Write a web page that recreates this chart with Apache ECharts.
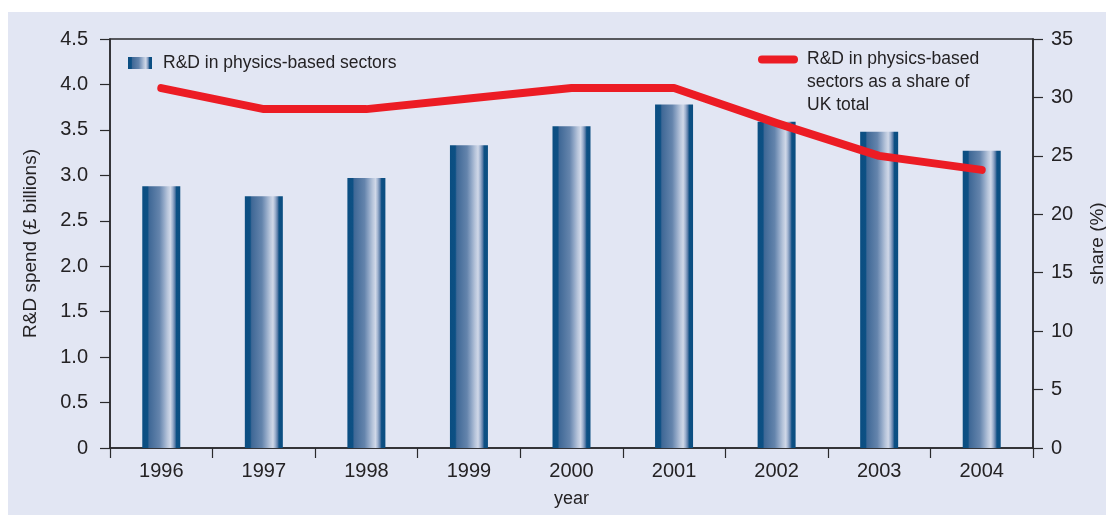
<!DOCTYPE html>
<html>
<head>
<meta charset="utf-8">
<script src="https://cdn.jsdelivr.net/npm/echarts@6/dist/echarts.min.js"></script>
<style>
  html, body { margin: 0; padding: 0; background: #ffffff; }
  #wrap { position: relative; width: 1106px; height: 515px; overflow: hidden; }
  #bg { position: absolute; left: 8px; top: 12px; right: 0; bottom: 0; background: #e2e6f3; }
  #chart { position: absolute; left: 0; top: 0; width: 1106px; height: 515px; }
</style>
</head>
<body>
<div id="wrap">
  <div id="bg"></div>
  <div id="chart"></div>
</div>
<script>
// Years on the category axis
const years = ['1996', '1997', '1998', '1999', '2000', '2001', '2002', '2003', '2004'];
// R&D spend in physics-based sectors, £ billions
const rdSpend = [2.88, 2.77, 2.97, 3.33, 3.54, 3.78, 3.59, 3.48, 3.27];
// Physics-based R&D as a share of the UK total, %
const sharePct = [30.8, 29.0, 29.0, 29.9, 30.8, 30.8, 27.8, 25.0, 23.8];

const barName = 'R&D in physics-based sectors';
const lineName = 'R&D in physics-based sectors as a share of UK total';

const FONT = '"Liberation Sans", Arial, Helvetica, sans-serif';
const INK = '#242224';
const AXIS = '#2a2a2c';

// Cylinder-like shading across each bar
const barGradient = new echarts.graphic.LinearGradient(0, 0, 1, 0, [
  { offset: 0.00, color: '#0b4e81' },
  { offset: 0.14, color: '#0d5084' },
  { offset: 0.18, color: '#3f6896' },
  { offset: 0.45, color: '#6484ac' },
  { offset: 0.56, color: '#8ea5c5' },
  { offset: 0.66, color: '#b6c4da' },
  { offset: 0.74, color: '#d0d8e8' },
  { offset: 0.80, color: '#9fb2cf' },
  { offset: 0.86, color: '#5b7da8' },
  { offset: 0.90, color: '#0d5084' },
  { offset: 1.00, color: '#0b4e81' }
]);

// Pill-shaped line key sitting at the top of a taller box, so it lines up
// with the first line of the three-line legend label
const pillIcon = 'path://M4,0 L36,0 A4,4 0 0 1 36,8 L4,8 A4,4 0 0 1 4,0 Z M0,54 L0,54';

const chart = echarts.init(document.getElementById('chart'), null, { renderer: 'canvas' });

chart.setOption({
  animation: false,
  backgroundColor: 'transparent',
  textStyle: { fontFamily: FONT, color: INK },
  grid: {
    left: 110, right: 73, top: 39, bottom: 67,
    outerBoundsMode: 'none',
    containLabel: false,
    show: true, borderColor: AXIS, borderWidth: 1.5, backgroundColor: 'transparent'
  },
  legend: [
    {
      data: [barName],
      left: 123, top: 49,
      itemWidth: 24, itemHeight: 12,
      icon: 'rect',
      textStyle: { fontFamily: FONT, fontSize: 17.5, color: INK, padding: [0, 0, 0, 6] },
      selectedMode: false
    },
    {
      data: [lineName],
      left: 753, top: 43,
      itemWidth: 40, itemHeight: 54,
      icon: pillIcon,
      formatter: function () { return 'R&D in physics-based\nsectors as a share of\nUK total'; },
      textStyle: { fontFamily: FONT, fontSize: 17.5, color: INK, lineHeight: 23, padding: [0, 0, 0, 4] },
      selectedMode: false
    }
  ],
  xAxis: {
    type: 'category',
    data: years,
    name: 'year',
    nameLocation: 'middle',
    nameGap: 42,
    nameTextStyle: { fontFamily: FONT, fontSize: 18, color: INK },
    axisLine: { lineStyle: { color: AXIS, width: 1.5 } },
    axisTick: { show: true, length: 10, inside: false, lineStyle: { color: AXIS, width: 1.2 } },
    axisLabel: { fontFamily: FONT, fontSize: 20, color: INK, margin: 13 }
  },
  yAxis: [
    {
      type: 'value',
      min: 0, max: 4.5, interval: 0.5,
      name: 'R&D spend (£ billions)',
      nameLocation: 'middle',
      nameGap: 70,
      nameRotate: 90,
      nameTextStyle: { fontFamily: FONT, fontSize: 19, color: INK },
      axisLine: { show: true, lineStyle: { color: AXIS, width: 1.5 } },
      axisTick: { show: true, length: 10, lineStyle: { color: AXIS, width: 1.2 } },
      splitLine: { show: false },
      axisLabel: {
        fontFamily: FONT, fontSize: 20, color: INK, margin: 22,
        formatter: function (v) { return v === 0 ? '0' : v.toFixed(1); }
      }
    },
    {
      type: 'value',
      min: 0, max: 35, interval: 5,
      position: 'right',
      name: 'share (%)',
      nameLocation: 'middle',
      nameGap: 55,
      nameRotate: 90,
      nameTextStyle: { fontFamily: FONT, fontSize: 19, color: INK },
      axisLine: { show: true, lineStyle: { color: AXIS, width: 1.5 } },
      axisTick: { show: true, length: 10, lineStyle: { color: AXIS, width: 1.2 } },
      splitLine: { show: false },
      axisLabel: { fontFamily: FONT, fontSize: 20, color: INK, margin: 18 }
    }
  ],
  series: [
    {
      name: barName,
      type: 'bar',
      yAxisIndex: 0,
      data: rdSpend,
      barWidth: 38,
      itemStyle: { color: barGradient },
      z: 2
    },
    {
      name: lineName,
      type: 'line',
      yAxisIndex: 1,
      data: sharePct,
      symbol: 'none',
      lineStyle: { color: '#ec1c24', width: 8, cap: 'round', join: 'round' },
      itemStyle: { color: '#ec1c24' },
      z: 3
    }
  ]
});
</script>
</body>
</html>
